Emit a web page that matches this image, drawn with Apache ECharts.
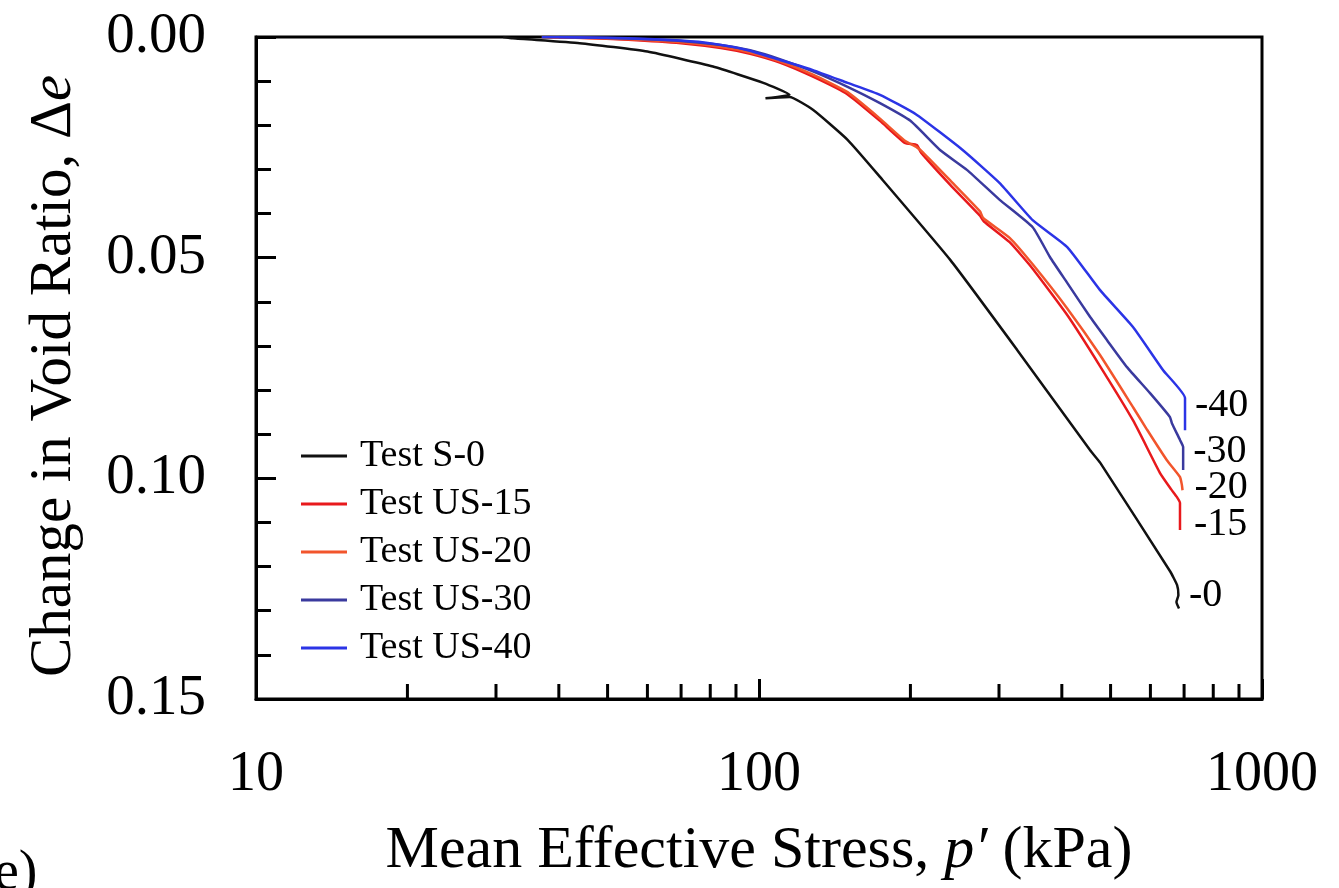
<!DOCTYPE html>
<html>
<head>
<meta charset="utf-8">
<script src="https://cdn.jsdelivr.net/npm/echarts@6/dist/echarts.min.js"></script>
<style>
html,body{margin:0;padding:0;background:#fff;}
#c{width:1339px;height:888px;}
</style>
</head>
<body>
<div id="c"></div>
<script>
// ---- data (p' in kPa, change in void ratio) ----
const xMinorTicks = [20,30,40,50,60,70,80,90,200,300,400,500,600,700,800,900];
const xTickLabels = {10:'10',100:'100',1000:'1000'};
const yTickLabels = ['0.00','0.05','0.10','0.15'];
const seriesNames = ['Test S-0','Test US-15','Test US-20','Test US-30','Test US-40'];
const endLabels = ['-0','-15','-20','-30','-40'];

const testS0 = [[31,0],[32.4,0.0003],[44,0.0014],[60,0.0033],[81,0.0067],[102,0.0104],[115,0.0131],
  [103,0.0139],[115,0.0136],[128,0.0165],[150,0.0233],[174,0.0317],[240,0.0505],[326,0.0709],
  [455,0.0936],[477,0.0965],[656,0.121],[678,0.1242],[682,0.1265],[676,0.128],[684,0.1295]];
const testUS15 = [[38,0],[45,0.0002],[55,0.0006],[70,0.0014],[84,0.0025],[96,0.0038],[110,0.0058],
  [128,0.0090],[150,0.0130],[174,0.0190],[195,0.0240],[206,0.0245],[210,0.0262],[240,0.0335],
  [275,0.0405],[280,0.0418],[315,0.0465],[350,0.0525],[410,0.0630],[476,0.0745],[555,0.0870],
  [627,0.0988],[660,0.1025],[677,0.1042],[687,0.1056],[687,0.1117]];
const testUS20 = [[37,0],[42,0.0001],[55,0.0005],[70,0.0012],[84,0.0022],[96,0.0035],[110,0.0055],
  [128,0.0085],[150,0.0125],[174,0.0185],[195,0.0235],[206,0.0250],[212,0.0262],[240,0.0325],
  [275,0.0395],[279,0.0410],[315,0.0455],[350,0.0515],[410,0.0615],[476,0.0720],[555,0.0840],
  [591,0.0890],[647,0.0959],[687,0.0997],[693,0.1015],[695,0.1027]];
const testUS30 = [[40,0],[50,0.0002],[60,0.0005],[70,0.0009],[84,0.0018],[96,0.0030],[110,0.0050],
  [128,0.0078],[150,0.0113],[174,0.0150],[200,0.0190],[229,0.0256],[259,0.0301],[301,0.0369],
  [350,0.0431],[379,0.0499],[410,0.0557],[455,0.0634],[492,0.0687],[539,0.0748],[599,0.0807],
  [656,0.0861],[662,0.0875],[687,0.0913],[697,0.0929],[697,0.0981]];
const testUS40 = [[37,0],[45,0.0001],[55,0.0003],[70,0.0008],[81,0.0015],[95,0.0030],[110,0.0052],
  [128,0.0075],[150,0.0104],[174,0.0131],[205,0.0175],[254,0.0256],[301,0.0331],[350,0.0415],
  [410,0.0476],[476,0.0573],[554,0.0657],[636,0.0755],[703,0.0818],[703,0.0891]];

const seriesData = [testS0,testUS15,testUS20,testUS30,testUS40];
const colors = ['#111111','#e8191c','#f2552c','#3a3a9e','#2b34e6'];
const labelOffsets = [[2,-13],[6,-5],[4,-3],[2,-18],[2,-25]];

const X_MIN = 10, X_MAX = 1000, Y_MIN = 0, Y_MAX = 0.15;
const FONT = 'Liberation Serif';

const chart = echarts.init(document.getElementById('c'), null, {renderer:'canvas'});

const lineSeries = seriesNames.map((name,i)=>({
  name: name,
  type: 'line',
  data: seriesData[i],
  showSymbol: false,
  symbol: 'none',
  smooth: 0.15,
  lineStyle: {color: colors[i], width: 2.5},
  itemStyle: {color: colors[i]},
  z: 3 + (i===0?5:i),
  endLabel: {
    show: true,
    formatter: endLabels[i],
    color: '#000',
    fontFamily: FONT,
    fontSize: 40,
    offset: labelOffsets[i]
  }
}));

const tickSeries = {
  type: 'custom',
  name: 'xticks',
  data: xMinorTicks.map(v=>[v, Y_MAX]),
  encode: {x:0, y:1},
  silent: true,
  z: 10,
  renderItem: function(params, api){
    const p = api.coord([api.value(0), api.value(1)]);
    return {type:'line', shape:{x1:p[0], y1:p[1], x2:p[0], y2:p[1]-15}, style:{stroke:'#000', lineWidth:3}};
  }
};

chart.setOption({
  animation: false,
  backgroundColor: '#fff',
  grid: {left:256, right:77, top:37, bottom:189, show:true, borderColor:'#000', borderWidth:3, backgroundColor:'transparent'},
  legend: {
    data: seriesNames,
    orient: 'vertical',
    left: 296,
    top: 431,
    icon: 'rect',
    itemWidth: 46,
    itemHeight: 3,
    itemGap: 8,
    textStyle: {fontFamily: FONT, fontSize: 38, color:'#000', lineHeight: 40, padding:[0,0,0,8]}
  },
  xAxis: {
    type: 'log',
    logBase: 10,
    min: X_MIN,
    max: X_MAX,
    position: 'bottom',
    splitLine: {show:false},
    axisLine: {show:true, onZero:false, lineStyle:{color:'#000', width:3}},
    axisTick: {show:true, inside:true, length:20, lineStyle:{width:3, color:'#000'}},
    axisLabel: {fontFamily: FONT, fontSize: 56, color:'#000', margin: 48,
      formatter: function(v){ return xTickLabels[Math.round(v)] || String(v); }},
    name: '{n|Mean Effective Stress, }{i|p′}{n| (kPa)}',
    nameLocation: 'middle',
    nameGap: 122,
    nameTextStyle: {fontFamily: FONT, fontSize: 60, color:'#000',
      rich: {n:{fontFamily: FONT, fontSize:60, color:'#000'}, i:{fontFamily: FONT, fontSize:60, fontStyle:'italic', color:'#000'}}}
  },
  yAxis: {
    type: 'value',
    inverse: true,
    min: Y_MIN,
    max: Y_MAX,
    interval: 0.05,
    splitLine: {show:false},
    axisLine: {show:true, onZero:false, lineStyle:{color:'#000', width:3}},
    axisTick: {show:true, inside:true, length:20, lineStyle:{width:3, color:'#000'}},
    minorTick: {show:true, splitNumber:5, length:15, lineStyle:{width:3, color:'#000'}},
    axisLabel: {fontFamily: FONT, fontSize: 57, color:'#000', margin: 50,
      formatter: function(v){ const i = Math.round(v/0.05); return yTickLabels[i] !== undefined ? yTickLabels[i] : v.toFixed(2); }},
    name: '{n|Change in Void Ratio, Δ}{i|e}',
    nameLocation: 'middle',
    nameGap: 172,
    nameTextStyle: {fontFamily: FONT, fontSize: 59, color:'#000', padding:[0,16,0,0],
      rich: {n:{fontFamily: FONT, fontSize:59, color:'#000'}, i:{fontFamily: FONT, fontSize:59, fontStyle:'italic', color:'#000'}}}
  },
  graphic: [{
    type: 'text', left: -6, top: 846,
    style: {text: 'e)', fontFamily: FONT, fontSize: 56, fill: '#000'}
  }],
  series: lineSeries.concat([tickSeries])
});
</script>
</body>
</html>
